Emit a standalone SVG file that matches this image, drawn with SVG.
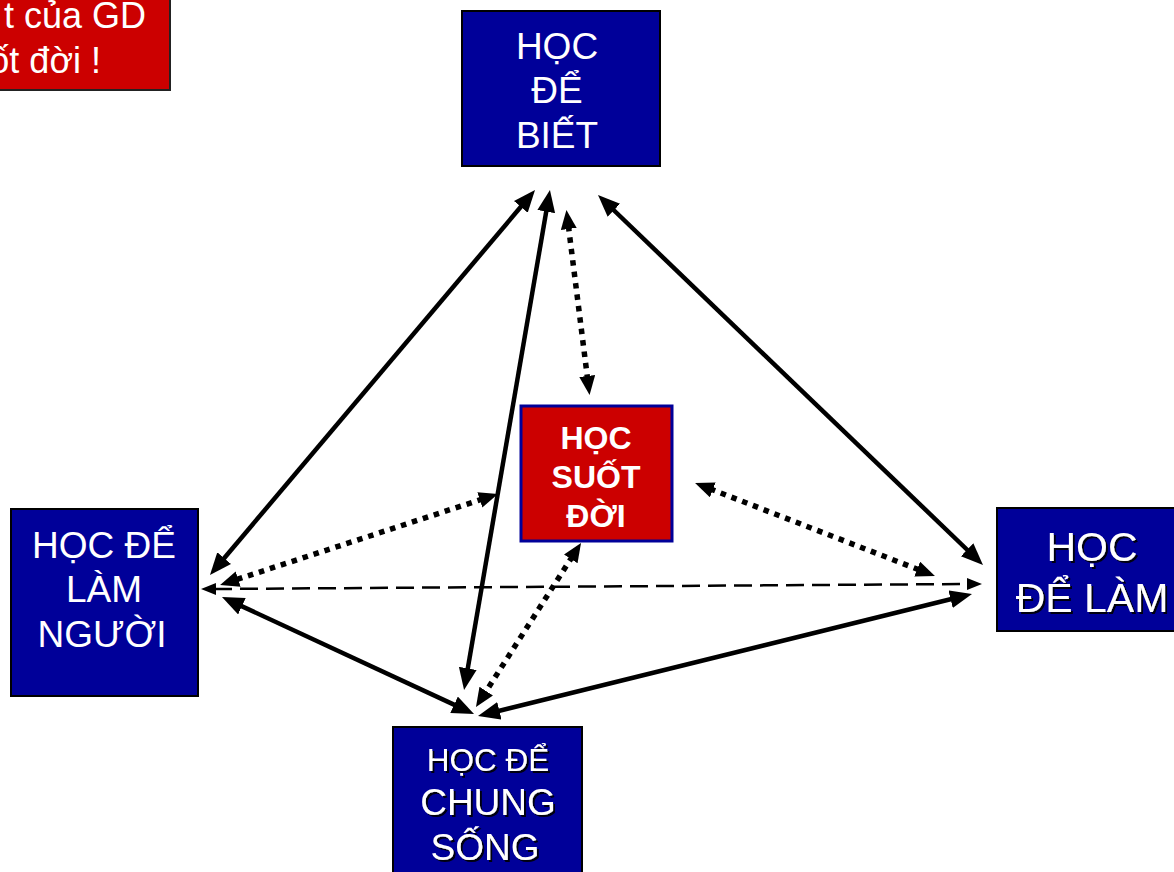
<svg xmlns="http://www.w3.org/2000/svg" width="1174" height="872" viewBox="0 0 1174 872">
<style>
.box{fill:#000099;stroke:#000;stroke-width:2}
.t{font-family:"Liberation Sans",Arial,sans-serif;fill:#fff;text-anchor:middle}
.solid{stroke:#000;stroke-width:4.5;fill:none;marker-start:url(#ah);marker-end:url(#ah)}
.dot{stroke:#000;stroke-width:5.5;stroke-dasharray:5.5 6;fill:none;marker-start:url(#ad);marker-end:url(#ad)}
.dash{stroke:#000;stroke-width:2.5;stroke-dasharray:18 8;fill:none;marker-start:url(#as);marker-end:url(#as)}
</style>
<defs>
<marker id="ah" markerUnits="userSpaceOnUse" markerWidth="24" markerHeight="20" refX="4" refY="9" orient="auto-start-reverse" viewBox="0 0 24 20"><path d="M0,0 L22,9 L0,18 z" fill="#000"/></marker>
<marker id="ad" markerUnits="userSpaceOnUse" markerWidth="22" markerHeight="18" refX="3" refY="8" orient="auto-start-reverse" viewBox="0 0 22 18"><path d="M0,0 L19,8 L0,16 z" fill="#000"/></marker>
<marker id="as" markerUnits="userSpaceOnUse" markerWidth="18" markerHeight="14" refX="2" refY="6" orient="auto-start-reverse" viewBox="0 0 18 14"><path d="M0,0 L15,6 L0,12 z" fill="#000"/></marker>
<filter id="sh" x="-10%" y="-10%" width="130%" height="130%"><feDropShadow dx="2" dy="2" stdDeviation="0.5" flood-color="#000" flood-opacity="0.9"/></filter>
</defs>
<rect width="1174" height="872" fill="#fff"/>

<g id="connectors">
<line class="solid" x1="523.4" y1="203.8" x2="221.6" y2="561.2"/>
<line class="solid" x1="546.9" y1="207.7" x2="467.1" y2="672.3"/>
<line class="solid" x1="611.0" y1="207.5" x2="970.0" y2="552.5"/>
<line class="solid" x1="238.3" y1="604.6" x2="457.7" y2="706.4"/>
<line class="solid" x1="495.5" y1="711.7" x2="954.5" y2="598.3"/>
<line class="dot" x1="568.4" y1="226" x2="587.6" y2="379"/>
<line class="dot" x1="482.7" y1="499" x2="235.3" y2="580"/>
<line class="dot" x1="572.4" y1="556.4" x2="484.6" y2="693.6"/>
<line class="dot" x1="710" y1="488.8" x2="920" y2="570.2"/>
<line class="dash" x1="214" y1="589" x2="969" y2="584"/>
</g>

<g id="note">
<rect x="-2" y="-2" width="172" height="92" fill="#CC0000" stroke="#222" stroke-width="2"/>
<text class="t" style="text-anchor:end" x="146" y="28" font-size="36">t của GD</text>
<text class="t" style="text-anchor:end" x="101" y="73" font-size="36">ốt đời !</text>
</g>

<g id="hoc-de-biet">
<rect class="box" x="462" y="11" width="198" height="155"/>
<text class="t" x="557" y="59" font-size="37">HỌC</text>
<text class="t" x="557" y="103" font-size="37">ĐỂ</text>
<text class="t" x="557" y="148" font-size="37">BIẾT</text>
</g>

<g id="hoc-suot-doi">
<rect x="521" y="406" width="151" height="135" fill="#CC0000" stroke="#000099" stroke-width="3"/>
<text class="t" x="596" y="449" font-size="32" font-weight="bold">HỌC</text>
<text class="t" x="596" y="488" font-size="32" font-weight="bold">SUỐT</text>
<text class="t" x="596" y="527" font-size="32" font-weight="bold">ĐỜI</text>
</g>

<g id="hoc-de-lam-nguoi">
<rect class="box" x="11" y="509" width="187" height="187" stroke="#333"/>
<text class="t" x="104" y="558" font-size="37">HỌC ĐỂ</text>
<text class="t" x="104" y="602" font-size="37">LÀM</text>
<text class="t" x="102" y="647" font-size="37">NGƯỜI</text>
</g>

<g id="hoc-de-lam">
<rect class="box" x="997" y="508" width="180" height="123"/>
<text class="t" x="1092" y="561" font-size="41" filter="url(#sh)">HỌC</text>
<text class="t" x="1092" y="612" font-size="41" filter="url(#sh)">ĐỂ LÀM</text>
</g>

<g id="hoc-de-chung-song">
<rect class="box" x="393" y="727" width="189" height="148"/>
<text class="t" x="488" y="771" font-size="31.5" filter="url(#sh)">HỌC ĐỂ</text>
<text class="t" x="488" y="815" font-size="37" filter="url(#sh)">CHUNG</text>
<text class="t" x="485" y="860" font-size="37" filter="url(#sh)">SỐNG</text>
</g>
</svg>
